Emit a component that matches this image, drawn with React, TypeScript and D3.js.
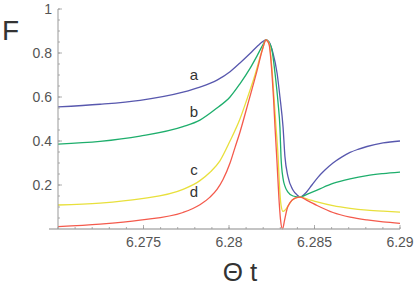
import React from 'react';
import * as d3 from 'd3';

// chart values
const xTicks = [6.275, 6.28, 6.285, 6.29];
const yTicks = [0.2, 0.4, 0.6, 0.8, 1];
const xTickLabels = ['6.275', '6.28', '6.285', '6.29'];
const yTickLabels = ['0.2', '0.4', '0.6', '0.8', '1'];

const seriesNames = ['a', 'b', 'c', 'd'];
const seriesColors = ['#5858ae', '#1eae6c', '#e8e03c', '#f45a4c'];

// [theta t, F]
const curveA: [number, number][] = [
  [6.27, 0.555], [6.27246, 0.567], [6.2748, 0.585], [6.27731, 0.622], [6.2783, 0.645],
  [6.2793, 0.677], [6.28006, 0.715], [6.28064, 0.755], [6.28123, 0.798], [6.2817, 0.834],
  [6.28199, 0.853], [6.28216, 0.859], [6.28234, 0.85], [6.28257, 0.8], [6.28281, 0.709],
  [6.28298, 0.6], [6.28316, 0.464], [6.28327, 0.33], [6.28345, 0.238], [6.28374, 0.177],
  [6.28398, 0.155], [6.28415, 0.145], [6.2845, 0.165], [6.28485, 0.2], [6.2852, 0.235],
  [6.28561, 0.268], [6.28608, 0.3], [6.28661, 0.328], [6.28708, 0.348], [6.28754, 0.362],
  [6.28807, 0.375], [6.28901, 0.391], [6.29, 0.4],
];
const curveB: [number, number][] = [
  [6.27, 0.386], [6.27246, 0.398], [6.2748, 0.422], [6.27731, 0.465], [6.2783, 0.495],
  [6.2793, 0.55], [6.28006, 0.6], [6.28064, 0.66], [6.28123, 0.73], [6.28164, 0.787],
  [6.28199, 0.838], [6.28216, 0.859], [6.2824, 0.84], [6.28251, 0.814], [6.28269, 0.709],
  [6.28287, 0.573], [6.28298, 0.46], [6.28304, 0.33], [6.28316, 0.23], [6.28327, 0.195],
  [6.28345, 0.168], [6.28374, 0.15], [6.28415, 0.145], [6.28462, 0.16], [6.28515, 0.177],
  [6.28608, 0.207], [6.28708, 0.228], [6.28807, 0.243], [6.28901, 0.252], [6.29, 0.259],
];
const curveC: [number, number][] = [
  [6.27, 0.109], [6.27246, 0.118], [6.2748, 0.137], [6.27731, 0.18], [6.2783, 0.22],
  [6.27889, 0.258], [6.27947, 0.31], [6.28006, 0.4], [6.28064, 0.5], [6.28105, 0.59],
  [6.28152, 0.7], [6.28193, 0.81], [6.28216, 0.859], [6.28234, 0.845], [6.28251, 0.73],
  [6.28263, 0.6], [6.28275, 0.464], [6.28287, 0.33], [6.28295, 0.2], [6.28304, 0.11],
  [6.28316, 0.08], [6.28327, 0.085], [6.28345, 0.105], [6.28368, 0.13], [6.28392, 0.142],
  [6.28415, 0.145], [6.28462, 0.135], [6.28515, 0.123], [6.28608, 0.106], [6.28708, 0.094],
  [6.28807, 0.086], [6.28901, 0.081], [6.29, 0.077],
];
const curveD: [number, number][] = [
  [6.27, 0.011], [6.27246, 0.022], [6.2748, 0.04], [6.27731, 0.075], [6.2783, 0.11],
  [6.27889, 0.145], [6.2793, 0.18], [6.27965, 0.225], [6.28006, 0.3], [6.28035, 0.37],
  [6.28064, 0.44], [6.28111, 0.57], [6.28164, 0.72], [6.28199, 0.825], [6.28216, 0.859],
  [6.28234, 0.84], [6.28251, 0.709], [6.2826, 0.6], [6.28269, 0.464], [6.28281, 0.3],
  [6.28292, 0.14], [6.28301, 0.045], [6.28313, 0], [6.28325, 0.04], [6.28339, 0.09],
  [6.28357, 0.12], [6.28386, 0.14], [6.28415, 0.145], [6.28462, 0.128], [6.28515, 0.107],
  [6.28608, 0.075], [6.28708, 0.054], [6.28807, 0.041], [6.28901, 0.032], [6.29, 0.026],
];
const curves = [curveA, curveB, curveC, curveD];

// where the letters sit, in data units [theta t, F]
const labelSpots: [number, number][] = [
  [6.27795, 0.677], [6.27795, 0.509], [6.27795, 0.245], [6.27795, 0.145],
];

const width = 415, height = 289;
const font = '"Liberation Sans", Arial, Helvetica, sans-serif';

export default function App() {
  const x = d3.scaleLinear().domain([6.27, 6.29]).range([58, 400]);
  const y = d3.scaleLinear().domain([0, 1]).range([229, 9]);

  const line = d3.line<[number, number]>()
    .x(d => x(d[0]))
    .y(d => y(d[1]))
    .curve(d3.curveMonotoneX);

  // minor ticks every 0.001 on x, every 0.05 on y
  const xMinor = d3.range(0, 21).map(i => 6.27 + i * 0.001);
  const yMinor = d3.range(1, 21).map(i => i * 0.05);

  return (
    <svg width={width} height={height} style={{ position: 'absolute', left: 0, top: 0, background: '#fff' }}>
      {/* curves */}
      {curves.map((c, i) => (
        <path key={seriesNames[i]} d={line(c) || ''} fill="none" stroke={seriesColors[i]} strokeWidth={1.3} />
      ))}

      {/* x axis */}
      <line x1={x.range()[0] - 9} x2={x.range()[1]} y1={y(0)} y2={y(0)} stroke="#b0b0b0" strokeWidth={1.6} />
      {xMinor.map((t, i) => (
        <line key={`xm${i}`} x1={x(t)} x2={x(t)} y1={y(0)} y2={y(0) - 2} stroke="#999" strokeWidth={0.8} />
      ))}
      {xTicks.map(t => (
        <line key={`xt${t}`} x1={x(t)} x2={x(t)} y1={y(0)} y2={y(0) - 4} stroke="#999" strokeWidth={0.8} />
      ))}
      {xTicks.map((t, i) => (
        <text key={`xl${t}`} x={x(t)} y={247} textAnchor="middle" fontSize={14} fill="#555" fontFamily={font}>{xTickLabels[i]}</text>
      ))}

      {/* y axis */}
      <line x1={x(6.27)} x2={x(6.27)} y1={y(0)} y2={y(1)} stroke="#999" strokeWidth={1} />
      {yMinor.map((t, i) => (
        <line key={`ym${i}`} x1={x(6.27)} x2={x(6.27) + 2} y1={y(t)} y2={y(t)} stroke="#999" strokeWidth={0.8} />
      ))}
      {yTicks.map(t => (
        <line key={`yt${t}`} x1={x(6.27)} x2={x(6.27) + 4} y1={y(t)} y2={y(t)} stroke="#999" strokeWidth={0.8} />
      ))}
      {yTicks.map((t, i) => (
        <text key={`yl${t}`} x={52} y={y(t)} dy="0.35em" textAnchor="end" fontSize={14} fill="#555" fontFamily={font}>{yTickLabels[i]}</text>
      ))}

      {/* curve letters */}
      {labelSpots.map((p, i) => (
        <text key={`lab${i}`} x={x(p[0])} y={y(p[1])} textAnchor="middle" fontSize={15} fill="#333" fontFamily={font}>{seriesNames[i]}</text>
      ))}

      {/* axis titles */}
      <text x={2} y={40} fontSize={28} fill="#333" fontFamily={font}>F</text>
      <text x={240} y={281} textAnchor="middle" fontSize={26} fill="#333" fontFamily={font}>Θ t</text>
    </svg>
  );
}
